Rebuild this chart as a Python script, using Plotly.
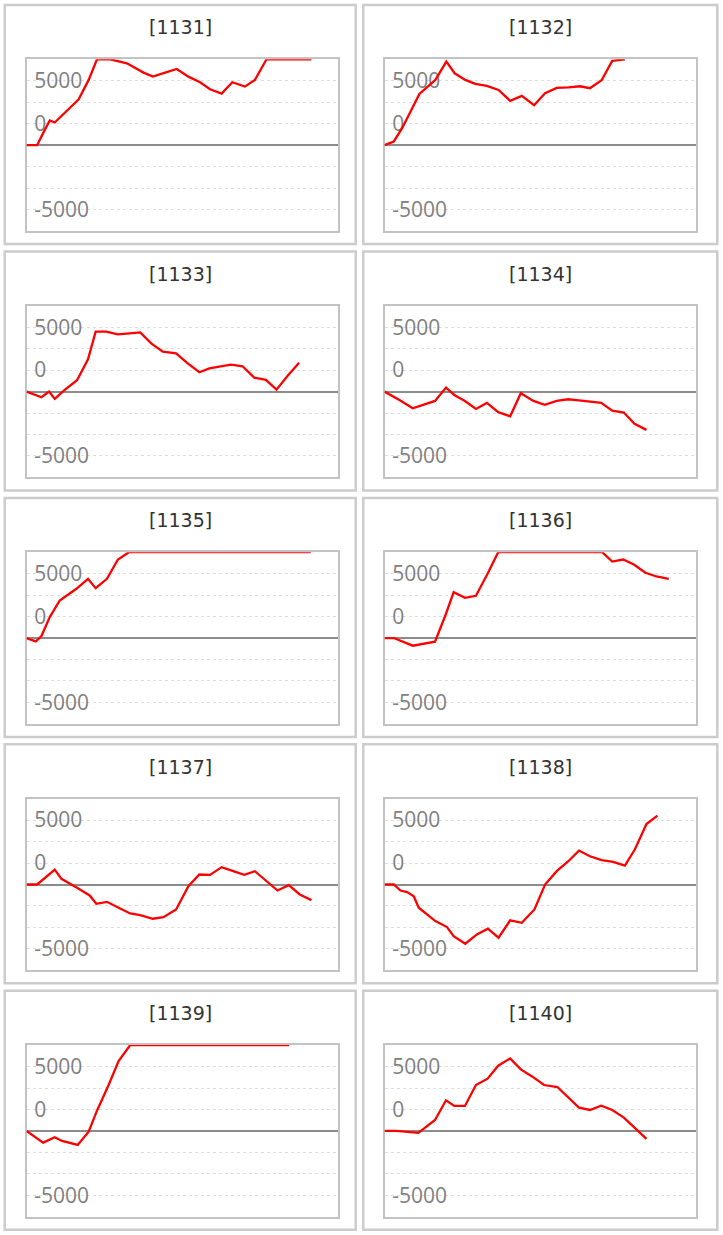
import plotly.graph_objects as go

# ---- data: machine numbers, game count (x) and coin difference (y) ----
machine_ids = ["1131", "1132", "1133", "1134", "1135", "1136", "1137", "1138", "1139", "1140"]

games_1131 = [0, 320, 500, 700, 850, 1220, 1570, 1870, 2120, 2520, 2770, 3020, 3520, 3800, 4170, 4520, 4870, 5220, 5520, 5870, 6190, 6570, 6870, 7220, 8570]
diff_1131 = [0, 0, 1400, 2870, 2640, 3990, 5350, 7600, 10000, 10000, 9800, 9530, 8450, 7980, 8450, 8880, 7980, 7330, 6510, 6010, 7330, 6820, 7600, 10000, 10000]

games_1132 = [0, 280, 530, 830, 1050, 1530, 1860, 2110, 2430, 2730, 3080, 3430, 3780, 4130, 4500, 4830, 5180, 5530, 5880, 6180, 6530, 6850, 7230]
diff_1132 = [0, 430, 1980, 4300, 5970, 7600, 9730, 8370, 7600, 7130, 6900, 6430, 5160, 5740, 4650, 6050, 6670, 6740, 6860, 6630, 7560, 9810, 10000]

games_1133 = [0, 450, 680, 850, 1150, 1520, 1850, 2080, 2400, 2750, 3100, 3420, 3750, 4100, 4500, 4850, 5200, 5500, 5800, 6150, 6500, 6850, 7200, 7520, 7850, 8200]
diff_1133 = [0, -660, 0, -850, 190, 1320, 3760, 6980, 6980, 6670, 6780, 6900, 5620, 4650, 4460, 3290, 2250, 2710, 2910, 3140, 2950, 1630, 1360, 230, 1820, 3370]

games_1134 = [0, 450, 850, 1200, 1520, 1850, 2100, 2420, 2750, 3080, 3420, 3780, 4100, 4480, 4820, 5180, 5520, 5850, 6200, 6520, 6850, 7200, 7520, 7880]
diff_1134 = [0, -970, -1940, -1470, -1090, 470, -390, -1090, -2020, -1320, -2400, -2870, -190, -1090, -1550, -1090, -890, -1010, -1160, -1320, -2210, -2440, -3760, -4460]

games_1135 = [0, 280, 450, 700, 1000, 1500, 1850, 2080, 2420, 2750, 3080, 8550]
diff_1135 = [0, -390, 230, 2440, 4380, 5740, 6900, 5810, 6900, 9150, 10000, 10000]

games_1136 = [0, 280, 850, 1200, 1520, 1850, 2080, 2420, 2750, 3100, 3420, 6550, 6850, 7180, 7500, 7850, 8180, 8550]
diff_1136 = [0, 0, -890, -660, -430, 2830, 5350, 4690, 4920, 7480, 10000, 10000, 8910, 9150, 8570, 7600, 7170, 6900]

games_1137 = [0, 320, 850, 1050, 1520, 1900, 2100, 2420, 2770, 3120, 3420, 3800, 4120, 4500, 4870, 5200, 5520, 5870, 6220, 6550, 6870, 7220, 7550, 7890, 8220, 8570]
diff_1137 = [0, 0, 1740, 660, -390, -1280, -2250, -2020, -2710, -3370, -3570, -3990, -3800, -2910, -190, 1160, 1120, 2020, 1550, 1120, 1550, 390, -700, -80, -1160, -1820]

games_1138 = [0, 280, 480, 680, 880, 1030, 1280, 1530, 1880, 2080, 2430, 2780, 3110, 3430, 3780, 4130, 4510, 4830, 5180, 5530, 5850, 6180, 6530, 6880, 7230, 7530, 7880, 8210]
diff_1138 = [0, 0, -700, -890, -1360, -2710, -3490, -4260, -4960, -6010, -6900, -5810, -5150, -6200, -4180, -4460, -2910, 0, 1550, 2710, 3950, 3290, 2830, 2640, 2210, 4070, 7050, 8020]

games_1139 = [0, 170, 500, 850, 1070, 1540, 1870, 2120, 2470, 2770, 3120, 7900]
diff_1139 = [0, -470, -1360, -740, -1160, -1630, -80, 2360, 5350, 8140, 10000, 10000]

games_1140 = [0, 350, 1020, 1520, 1850, 2100, 2420, 2750, 3100, 3420, 3780, 4100, 4450, 4800, 5200, 5520, 5850, 6180, 6520, 6850, 7200, 7520, 7880]
diff_1140 = [0, 0, -230, 1280, 3570, 2910, 2910, 5350, 6090, 7600, 8450, 7170, 6320, 5350, 5120, 3880, 2710, 2440, 2950, 2440, 1550, 390, -930]

y_tick_vals = [7500, 2500, -7500]
y_tick_text = ["5000", "0", "-5000"]
y_range = [-10000, 10000]
x_range = [0, 9370]

series = [
    (games_1131, diff_1131), (games_1132, diff_1132),
    (games_1133, diff_1133), (games_1134, diff_1134),
    (games_1135, diff_1135), (games_1136, diff_1136),
    (games_1137, diff_1137), (games_1138, diff_1138),
    (games_1139, diff_1139), (games_1140, diff_1140),
]

# ---- layout geometry (pixels) ----
W, H = 723, 1235
PITCH = 246.45
PLOT_LEFT = [26.5, 384.5]
PLOT_W = 311.5
PLOT_TOP, PLOT_BOT = 59.3, 231.0
BOX_X = [(4.7, 355.7), (363.3, 717.3)]
BOX_TOP, BOX_BOT = 5.0, 244.0
TITLE_Y = 27.2

fig = go.Figure()
shapes = []
annotations = []

for k, (mid, (gx, gy)) in enumerate(zip(machine_ids, series)):
    r, c = divmod(k, 2)
    suffix = "" if k == 0 else str(k + 1)
    off = PITCH * r

    fig.add_trace(go.Scatter(
        x=gx, y=gy, mode="lines",
        line=dict(color="#ff0000", width=2.3),
        xaxis="x" + suffix, yaxis="y" + suffix,
        showlegend=False, hoverinfo="skip",
    ))

    xl = PLOT_LEFT[c]
    fig.layout["xaxis" + suffix] = dict(
        domain=[xl / W, (xl + PLOT_W) / W], range=x_range, anchor="y" + suffix,
        showgrid=False, zeroline=False, showticklabels=False, ticks="",
        showline=True, mirror=True, linecolor="#c3c3c3", linewidth=2,
        layer="below traces", fixedrange=True,
    )
    fig.layout["yaxis" + suffix] = dict(
        domain=[1 - (PLOT_BOT + off) / H, 1 - (PLOT_TOP + off) / H],
        range=y_range, anchor="x" + suffix,
        tickmode="array", tickvals=y_tick_vals, ticktext=y_tick_text,
        ticks="", ticklabelposition="inside", ticklabelstandoff=9,
        tickfont=dict(family="Open Sans", size=21, color="#808080"),
        showgrid=True, gridcolor="#dedede", gridwidth=1, griddash="3px,3px",
        minor=dict(tickmode="linear", tick0=0, dtick=2500, showgrid=True,
                   gridcolor="#dedede", gridwidth=1, griddash="3px,3px", ticks=""),
        zeroline=True, zerolinecolor="#8c8c8c", zerolinewidth=2,
        showline=True, mirror=True, linecolor="#c3c3c3", linewidth=2,
        layer="below traces", fixedrange=True,
    )

    bx0, bx1 = BOX_X[c]
    shapes.append(dict(
        type="rect", xref="paper", yref="paper",
        x0=bx0 / W, x1=bx1 / W,
        y0=1 - (BOX_BOT + off) / H, y1=1 - (BOX_TOP + off) / H,
        line=dict(color="#cccccc", width=2.5), fillcolor="rgba(0,0,0,0)",
        layer="below",
    ))
    annotations.append(dict(
        text="[" + mid + "]", xref="paper", yref="paper",
        x=(bx0 + bx1) / 2 / W, y=1 - (TITLE_Y + off) / H,
        xanchor="center", yanchor="middle", showarrow=False,
        font=dict(family="DejaVu Sans", size=19, color="#333333"),
    ))

fig.update_layout(
    width=W, height=H, autosize=False,
    margin=dict(l=0, r=0, t=0, b=0, pad=0),
    paper_bgcolor="white", plot_bgcolor="white",
    shapes=shapes, annotations=annotations,
    showlegend=False,
)

fig.write_html(
    "out.html",
    config={"displayModeBar": False, "staticPlot": True},
    post_script="document.body.style.margin='0';document.body.style.overflow='hidden';",
)
